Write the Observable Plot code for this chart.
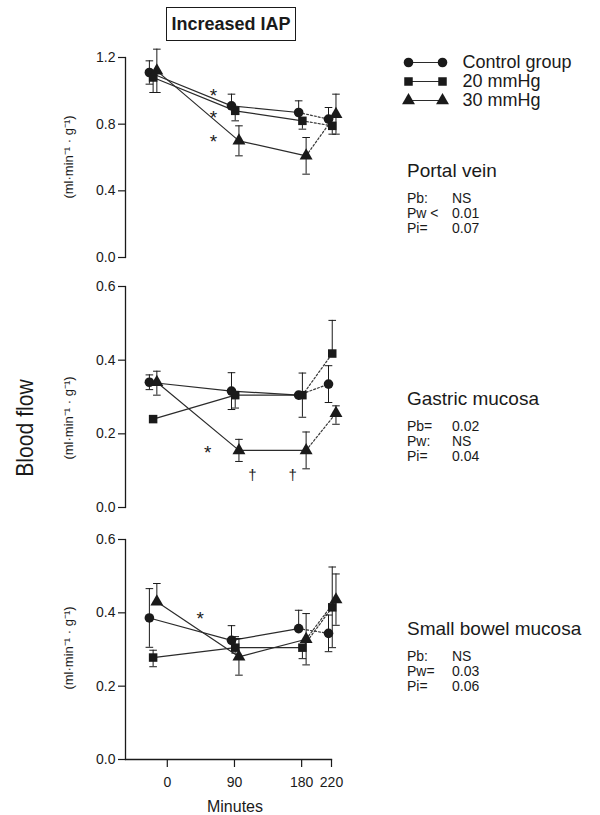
<!DOCTYPE html>
<html><head><meta charset="utf-8">
<script src="https://cdn.jsdelivr.net/npm/d3@7"></script>
<script src="https://cdn.jsdelivr.net/npm/@observablehq/plot@0.6"></script>
<style>
body{margin:0;background:#fff;}
#root{position:relative;width:600px;height:815px;overflow:hidden;font-family:"Liberation Sans",Arial,Helvetica,sans-serif;color:#1a1a1a;}
#root svg{position:absolute;left:0;overflow:visible;}
.lab{position:absolute;white-space:nowrap;line-height:1;}
</style></head><body><div id="root"></div>
<script>
// ---------- data ----------
const groups = ["Control group", "20 mmHg", "30 mmHg"];
const times = [-20, 90, 180, 220];          // first point = baseline before 0
const xTicks = [0, 90, 180, 220];
const panelNames = ["Portal vein", "Gastric mucosa", "Small bowel mucosa"];
const yTicksPortal = [0, 0.4, 0.8, 1.2];
const yTicksMucosa = [0, 0.2, 0.4, 0.6];

// Portal vein
const portalControl = [1.11, 0.91, 0.87, 0.83];
const portal20 = [1.08, 0.88, 0.82, 0.79];
const portal30 = [1.12, 0.70, 0.61, 0.86];
const portalUp = [[0.07, 0.07, 0.07, 0.07], [0, 0, 0, 0], [0.13, 0.09, 0.11, 0.12]];
const portalDown = [[0.07, 0, 0, 0], [0.09, 0.06, 0.05, 0.05], [0.13, 0.09, 0.11, 0.12]];
const portalNotes = [{t: 62, v: 1.0, s: "*"}, {t: 62, v: 0.865, s: "*"}, {t: 62, v: 0.725, s: "*"}];
const portalStats = [["Pb:", "NS"], ["Pw <", "0.01"], ["Pi=", "0.07"]];

// Gastric mucosa
const gastricControl = [0.34, 0.316, 0.305, 0.335];
const gastric20 = [0.24, 0.305, 0.305, 0.418];
const gastric30 = [0.34, 0.155, 0.155, 0.256];
const gastricUp = [[0.02, 0.05, 0, 0.05], [0, 0, 0.06, 0.09], [0.03, 0.03, 0.05, 0.02]];
const gastricDown = [[0.02, 0.05, 0, 0.05], [0, 0.035, 0.06, 0], [0.035, 0.03, 0.05, 0.03]];
const gastricNotes = [{t: 54, v: 0.163, s: "*"}, {t: 114, v: 0.087, s: "†"}, {t: 168, v: 0.087, s: "†"}];
const gastricStats = [["Pb=", "0.02"], ["Pw:", "NS"], ["Pi=", "0.04"]];

// Small bowel mucosa
const bowelControl = [0.386, 0.325, 0.357, 0.344];
const bowel20 = [0.278, 0.305, 0.305, 0.415];
const bowel30 = [0.43, 0.28, 0.328, 0.436];
const bowelUp = [[0.08, 0.04, 0.05, 0.05], [0.02, 0.03, 0, 0.11], [0.05, 0.05, 0.07, 0.07]];
const bowelDown = [[0.08, 0, 0, 0.05], [0.025, 0.015, 0.03, 0.11], [0, 0.05, 0.07, 0.07]];
const bowelNotes = [{t: 44, v: 0.396, s: "*"}];
const bowelStats = [["Pb:", "NS"], ["Pw=", "0.03"], ["Pi=", "0.06"]];

// ---------- drawing ----------
const ink = "#1a1a1a";
const font = '"Liberation Sans", Arial, Helvetica, sans-serif';
const dodge = [-4, 1, 6];               // small horizontal dodge (minutes) per group
const xDomain = [-56, 220];
const root = document.getElementById("root");

const capSymbol = {draw(ctx, size) { const r = Math.sqrt(size / Math.PI); ctx.moveTo(-r, 0); ctx.lineTo(r, 0); }};

function makePanel(values, up, down, notes, yMax, yTicks, layout) {
  const rows = [];
  groups.forEach((g, gi) => times.forEach((t, i) => {
    const v = values[gi][i];
    rows.push({group: g, i, x: t + dodge[gi], v, up: up[gi][i], dn: down[gi][i], hi: v + up[gi][i], lo: v - down[gi][i]});
  }));
  const marks = [
    Plot.frame({anchor: "left", stroke: ink, strokeWidth: 1.3}),
    Plot.axisY({ticks: yTicks, tickFormat: d3.format(".1f"), tickSize: 7, tickPadding: 3, fontSize: 14, label: null, stroke: ink, strokeWidth: 1.2}),
    Plot.line(rows.filter(d => d.i <= 2), {x: "x", y: "v", z: "group", stroke: "#2b2b2b", strokeWidth: 1.2}),
    Plot.line(rows.filter(d => d.i >= 2), {x: "x", y: "v", z: "group", stroke: "#3a3a3a", strokeWidth: 1.2, strokeDasharray: "2,2"}),
    Plot.ruleX(rows.filter(d => d.up > 0 || d.dn > 0), {x: "x", y1: "lo", y2: "hi", stroke: ink, strokeWidth: 1}),
    Plot.dot(rows.filter(d => d.up > 0), {x: "x", y: "hi", symbol: capSymbol, r: 3.8, stroke: ink, strokeWidth: 1, fill: "none"}),
    Plot.dot(rows.filter(d => d.dn > 0), {x: "x", y: "lo", symbol: capSymbol, r: 3.8, stroke: ink, strokeWidth: 1, fill: "none"}),
    Plot.dot(rows, {x: "x", y: "v", symbol: "group", fill: ink, stroke: "none", r: 4.8}),
    Plot.text(notes.filter(d => d.s === "*"), {x: "t", y: "v", text: "s", fontSize: 19, dy: 5, fill: ink}),
    Plot.text(notes.filter(d => d.s !== "*"), {x: "t", y: "v", text: "s", fontSize: 15, fill: ink})
  ];
  if (layout.bottomAxis) {
    marks.push(Plot.frame({anchor: "bottom", stroke: ink, strokeWidth: 1.3}));
    marks.push(Plot.axisX({ticks: xTicks, tickSize: 8, tickPadding: 10, fontSize: 14, label: null, stroke: ink, strokeWidth: 1.2}));
  }
  const svg = Plot.plot({
    width: 360, height: layout.height,
    marginLeft: 125, marginRight: 29, marginTop: layout.mt, marginBottom: layout.mb,
    x: {domain: xDomain, axis: layout.bottomAxis ? undefined : null},
    y: {domain: [0, yMax]},
    symbol: {domain: groups, range: ["circle", "square", "triangle"]},
    style: {fontFamily: font, color: ink, background: "transparent", overflow: "visible"},
    marks
  });
  svg.style.top = layout.top + "px";
  root.appendChild(svg);
}

makePanel([portalControl, portal20, portal30], portalUp, portalDown, portalNotes, 1.2, yTicksPortal,
  {top: 0, height: 270, mt: 57, mb: 13});
makePanel([gastricControl, gastric20, gastric30], gastricUp, gastricDown, gastricNotes, 0.6, yTicksMucosa,
  {top: 270, height: 250, mt: 16, mb: 13});
makePanel([bowelControl, bowel20, bowel30], bowelUp, bowelDown, bowelNotes, 0.6, yTicksMucosa,
  {top: 520, height: 295, mt: 19, mb: 56, bottomAxis: true});

// legend (drawn with Plot, own scales)
const legendRows = groups.map(g => ({group: g}));
const legend = Plot.plot({
  width: 200, height: 64, marginLeft: 10, marginRight: 156, marginTop: 0, marginBottom: 0,
  x: {domain: [0, 1], axis: null},
  y: {type: "point", domain: groups, range: [12, 50], padding: 0, axis: null},
  symbol: {domain: groups, range: ["circle", "square", "triangle"]},
  style: {fontFamily: font, color: ink, background: "transparent", overflow: "visible"},
  marks: [
    Plot.link(legendRows, {x1: () => 0, x2: () => 1, y1: "group", y2: "group", stroke: "#2b2b2b", strokeWidth: 1.2}),
    Plot.dot(legendRows, {x: () => 0, y: "group", symbol: "group", fill: ink, r: 4.8}),
    Plot.dot(legendRows, {x: () => 1, y: "group", symbol: "group", fill: ink, r: 4.8}),
    Plot.text(legendRows, {x: () => 1, y: "group", text: "group", textAnchor: "start", dx: 20, fontSize: 18, fill: ink})
  ]
});
legend.style.top = "50px";
legend.style.left = "398px";
root.appendChild(legend);

// HTML labels
function lab(text, x, y, css) {
  const d = document.createElement("div");
  d.className = "lab";
  d.textContent = text;
  d.style.left = x + "px";
  d.style.top = y + "px";
  d.style.transform = "translateY(-50%)";
  Object.assign(d.style, css || {});
  root.appendChild(d);
  return d;
}
// title box
lab("Increased IAP", 166, 7, {transform: "none", width: "128px", height: "32px", lineHeight: "32px",
  border: "1.6px solid #1a1a1a", textAlign: "center", fontWeight: "bold", fontSize: "18px"});

// y-axis title and units
lab("Blood flow", 25, 428, {fontSize: "24px", transform: "translate(-50%,-50%) rotate(-90deg) scaleX(0.88)"});
const unitText = "(ml·min⁻¹ · g⁻¹)";
[157, 418, 648].forEach(y => lab(unitText, 68, y, {fontSize: "13px", transform: "translate(-50%,-50%) rotate(-90deg)"}));

// x-axis title
lab("Minutes", 235, 807, {fontSize: "16px", transform: "translate(-50%,-50%)"});

// panel names and statistics
const statBlocks = [[170, portalStats], [398, gastricStats], [628, bowelStats]];
statBlocks.forEach(([y, stats], k) => {
  lab(panelNames[k], 407, y, {fontSize: "19px"});
  stats.forEach(([a, b], j) => {
    const yy = y + 28 + j * 15;
    lab(a, 407, yy, {fontSize: "14px"});
    lab(b, 452, yy, {fontSize: "14px"});
  });
});
</script>
</body></html>
